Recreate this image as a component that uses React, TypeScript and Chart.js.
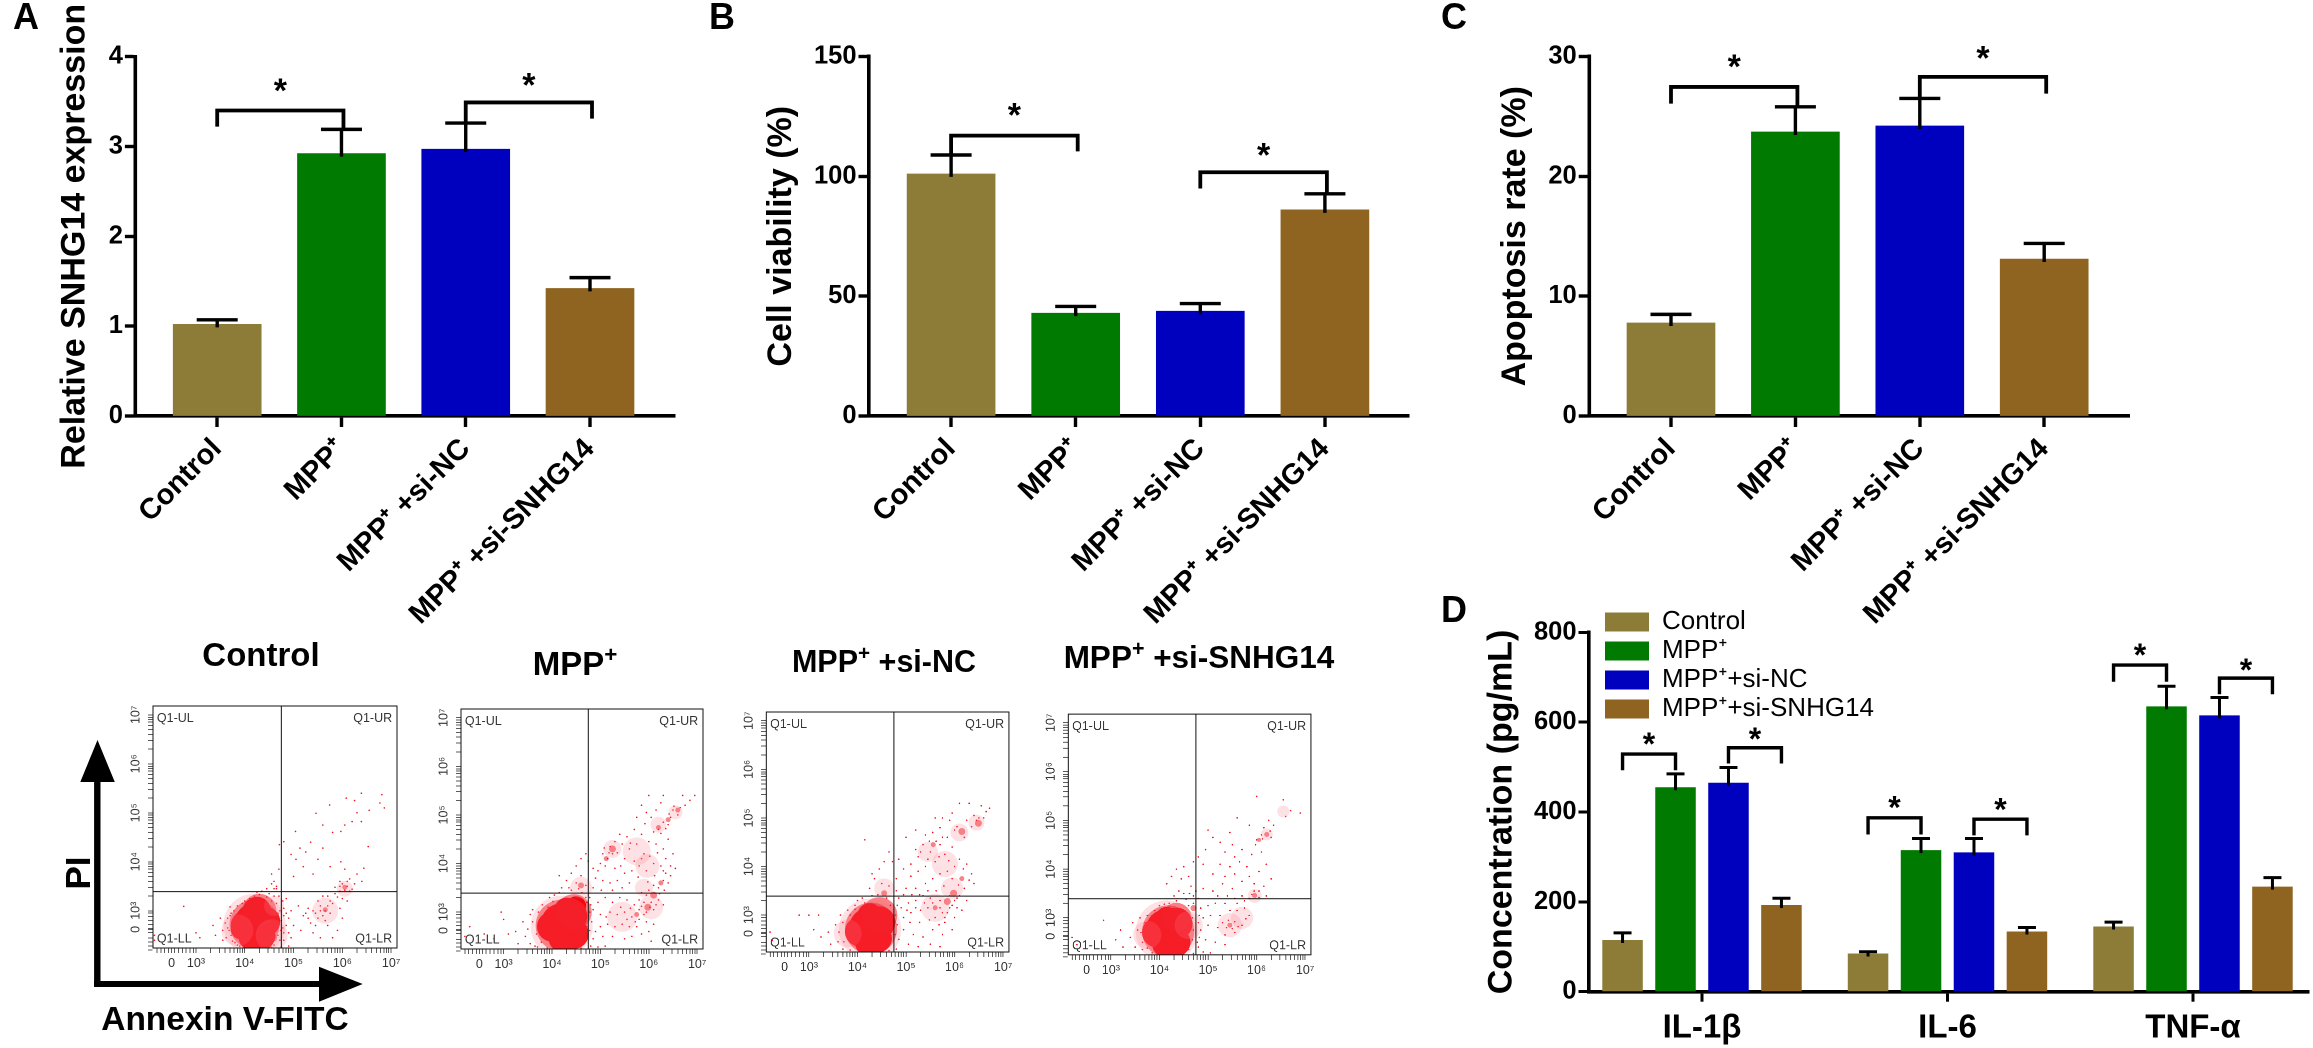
import React, { useEffect, useRef } from "react";
import { Chart, registerables } from "chart.js";

Chart.register(...registerables);

const FONT = "'Liberation Sans', Arial, sans-serif";
const INK = "#000";

const categories = ["Control", "MPP⁺", "MPP⁺ +si-NC", "MPP⁺ +si-SNHG14"];
const seriesNames = ["Control", "MPP⁺", "MPP⁺+si-NC", "MPP⁺+si-SNHG14"];
const barColors = ["#8c7c38", "#007a00", "#0000bf", "#8f6320"];

// Panel A
const aValues = [1.02, 2.92, 2.97, 1.42];
const aErrorTops = [1.07, 3.19, 3.26, 1.54];
const aTicks = [0, 1, 2, 3, 4];
// from, to, left leg end, bracket top, right leg end, star
const aBrackets = [
  [0, 1, 3.22, 3.4, 3.19, 3.68],
  [2, 3, 3.26, 3.49, 3.31, 3.74],
];
// Panel B
const bValues = [101, 42.9, 43.7, 86];
const bErrorTops = [108.9, 45.7, 46.9, 92.7];
const bTicks = [0, 50, 100, 150];
const bBrackets = [
  [0, 1, 108.9, 117, 110.4, 127.7],
  [2, 3, 94.9, 101.7, 92.7, 111],
];
// Panel C
const cValues = [7.76, 23.7, 24.2, 13.1];
const cErrorTops = [8.48, 25.8, 26.5, 14.4];
const cTicks = [0, 10, 20, 30];
const cBrackets = [
  [0, 1, 26.07, 27.46, 25.8, 29.6],
  [2, 3, 26.5, 28.3, 26.9, 30.3],
];
// Panel D
const dGroups = ["IL-1β", "IL-6", "TNF-α"];
const dTicks = [0, 200, 400, 600, 800];
const dControl = [115, 85, 145];
const dMpp = [455, 315, 635];
const dSiNc = [465, 310, 615];
const dSiSnhg = [193, 134, 234];
const dControlErr = [131, 89, 155];
const dMppErr = [485, 341, 680];
const dSiNcErr = [499, 341, 655];
const dSiSnhgErr = [208, 143, 254];
// series from, series to, group, left leg, top, right leg, star
const dBrackets = [
  [0, 1, 0, 493, 529, 493, 562],
  [2, 3, 0, 508, 543, 508, 574],
  [0, 1, 1, 350, 387, 350, 421],
  [2, 3, 1, 348, 384, 348, 417],
  [0, 1, 2, 690, 727, 690, 761],
  [2, 3, 2, 662, 698, 662, 727],
];

// Flow cytometry: axis positions are in decades
const flowMajorX = [2.5, 3, 4, 5, 6, 7];
const flowMajorY = [2.62, 3, 4, 5, 6, 7];
const flowTickLabels = ["0", "10³", "10⁴", "10⁵", "10⁶", "10⁷"];
const flowMinor = [2.2, 2.28, 2.36, 2.44, 2.56, 2.64, 2.72, 2.8, 2.88, 2.95, 3.3, 3.48, 3.6, 3.7, 3.78, 3.85, 3.9, 3.95, 4.3, 4.48, 4.6, 4.7, 4.78, 4.85, 4.9, 4.95, 5.3, 5.48, 5.6, 5.7, 5.78, 5.85, 5.9, 5.95, 6.3, 6.48, 6.6, 6.7, 6.78, 6.85, 6.9, 6.95];
const gateX = 4.75;
const gateY = 3.39;
const quadrantLabels: [string, number, number, string][] = [
  ["Q1-UL", 2.2, 6.92, "left"],
  ["Q1-UR", 7.02, 6.92, "right"],
  ["Q1-LL", 2.2, 2.42, "left"],
  ["Q1-LR", 7.02, 2.42, "right"],
];

const p1Core = [[4.2, 2.75, 20], [4.25, 3.0, 14], [4.3, 2.5, 16], [4.02, 2.7, 15], [4.42, 2.78, 15], [4.12, 2.45, 12], [4.32, 3.1, 8], [3.92, 2.62, 10]];
const p1Haze = [[4.2, 2.72, 31], [3.85, 2.6, 16], [4.55, 2.5, 16], [4.6, 3.1, 10], [5.65, 3.0, 13], [6.05, 3.45, 8]];
const p1Clumps = [[6.05, 3.48, 2.5], [5.65, 3.02, 2.5], [4.62, 2.9, 4], [4.58, 2.45, 4], [4.2, 2.72, 25], [4.3, 3.0, 17]];
const p1Dots = [[6.39,5.4],[6.81,5.37],[6.08,5.3],[5.74,5.16],[5.46,4.99],[6.77,5.2],[6.86,5.1],[6.39,4.82],[6.2,4.82],[5.97,4.62],[5.6,4.75],[5.04,4.62],[4.8,4.41],[5.13,4.28],[5.6,4.28],[4.71,4.35],[6.53,4.31],[5.97,4.0],[6.44,3.87],[6.25,5.25],[6.55,5.05],[6.3,5.0],[6.05,4.75],[5.8,4.6],[5.35,4.4],[5.25,4.2],[4.95,4.15],[5.05,4.05],[5.5,4.05],[5.75,3.9],[6.05,3.85],[6.3,3.75],[6.4,3.6],[6.15,3.65],[5.95,3.6],[6.1,3.5],[6.25,3.55],[5.85,3.48],[6.05,3.42],[6.2,3.44],[5.7,3.3],[5.9,3.28],[6.1,3.2],[5.8,3.15],[5.55,3.1],[5.65,3.0],[5.45,2.95],[5.75,2.95],[5.95,3.05],[5.3,3.05],[5.1,3.1],[4.95,3.0],[4.9,2.85],[4.85,3.25],[5.0,2.7],[5.15,2.6],[5.4,2.55],[5.7,2.7],[5.8,2.45],[5.55,2.45],[6.0,2.85],[5.9,2.6],[4.8,2.4],[4.95,2.45],[4.6,3.6],[4.55,3.75],[4.7,3.85],[4.65,3.5],[4.7,3.3],[5.0,3.7],[5.4,3.75],[5.2,3.9],[2.75,3.09],[3.0,2.55],[3.08,2.45],[3.35,2.7],[3.4,2.5],[3.5,2.85],[3.55,2.4],[3.65,2.65],[3.55,2.6],[2.15,2.5],[2.15,2.4],[4.55,2.25],[4.75,2.26],[4.9,2.28],[3.7,2.9],[3.72,2.5],[3.78,3.0],[3.8,2.35],[3.85,3.1],[3.9,2.28],[3.95,3.15],[4.0,3.2],[4.1,3.25],[4.25,3.38],[4.35,3.4],[4.5,3.35],[4.6,3.3],[4.65,3.15],[4.72,3.0],[4.75,2.8],[4.74,2.6],[4.72,2.4],[4.6,2.3],[4.45,2.25],[4.3,2.26],[4.1,2.27],[3.6,2.75],[3.62,2.45],[3.7,3.08],[5.2,2.9],[5.3,2.85],[5.4,3.0],[5.5,2.85],[5.6,2.9],[5.7,3.1],[5.5,3.2],[5.6,3.3],[5.75,3.2],[5.85,3.35],[5.95,3.4],[6.0,3.55],[6.1,3.6],[5.95,3.5],[6.15,3.4],[6.0,3.25],[5.65,2.8],[5.45,2.7],[5.35,2.75],[5.25,2.95],[5.55,3.0],[4.8,3.05],[4.85,2.7],[4.8,2.55],[4.85,2.95],[4.78,3.2],[4.8,2.9],[4.78,2.65],[4.9,2.55],[4.65,3.45],[4.55,3.55],[4.45,3.45],[4.6,3.45],[3.75,2.7],[3.68,2.6],[3.65,2.85],[3.72,2.95],[3.75,2.38],[3.85,2.3],[3.95,2.35],[4.0,3.1],[4.2,3.3],[4.3,3.33],[4.45,3.28],[4.55,3.2],[4.68,2.95],[4.7,2.7],[4.68,2.5],[4.6,2.4],[4.5,2.3]];

const p2Core = [[4.2, 2.75, 21], [4.4, 2.92, 16], [4.0, 2.7, 15], [4.45, 2.55, 15], [4.2, 2.45, 13], [4.5, 3.12, 10], [4.3, 3.05, 12]];
const p2Haze = [[4.2, 2.7, 31], [4.6, 3.5, 11], [5.25, 4.3, 9], [6.2, 4.8, 8], [6.55, 5.05, 7], [5.9, 3.5, 9], [6.05, 3.1, 12], [5.45, 2.9, 15], [5.97, 3.95, 12], [5.75, 4.25, 14]];
const p2Clumps = [[5.25, 4.3, 3.5], [5.12, 4.1, 2.5], [6.2, 4.74, 2.5], [6.4, 4.9, 2.5], [6.6, 5.1, 2.5], [6.25, 3.6, 2.5], [6.1, 3.35, 3.5], [5.98, 3.1, 3.5], [5.75, 2.95, 2.5], [4.6, 3.55, 3], [4.2, 2.72, 26], [4.45, 3.0, 18]];
const p2Dots = [[6.95,5.4],[6.85,5.3],[6.75,5.2],[6.65,5.15],[6.6,5.0],[6.5,5.1],[6.45,4.95],[6.4,4.8],[6.3,4.85],[6.2,4.7],[6.1,4.65],[6.05,4.95],[6.15,5.1],[6.25,5.25],[5.95,5.05],[5.85,5.2],[5.75,4.95],[6.0,5.4],[6.3,5.4],[6.7,5.4],[5.7,4.7],[5.85,4.6],[5.55,4.55],[5.4,4.6],[5.45,4.4],[5.3,4.45],[5.2,4.35],[5.25,4.2],[5.15,4.1],[5.05,4.2],[5.0,4.0],[5.1,3.95],[5.3,3.9],[5.5,4.1],[5.6,4.3],[5.75,4.4],[5.9,4.2],[6.0,4.45],[6.15,4.4],[6.3,4.3],[6.4,4.5],[6.5,4.2],[6.45,3.95],[6.35,3.8],[6.25,3.95],[6.1,4.0],[5.95,3.85],[5.8,3.95],[5.65,3.85],[5.5,3.8],[5.35,3.65],[5.2,3.6],[5.05,3.65],[4.9,3.7],[4.85,3.9],[4.75,4.05],[4.7,4.2],[4.6,4.1],[4.5,3.95],[4.4,3.8],[4.3,3.65],[4.2,3.5],[4.15,3.75],[4.35,3.5],[4.5,3.6],[4.6,3.75],[4.7,3.55],[6.55,3.9],[6.45,3.75],[6.4,3.6],[6.3,3.65],[6.2,3.5],[6.1,3.55],[6.0,3.45],[5.95,3.35],[5.85,3.4],[5.8,3.25],[5.9,3.2],[6.05,3.2],[6.2,3.25],[6.3,3.15],[6.1,3.05],[5.95,3.0],[5.8,3.05],[5.7,3.15],[5.55,3.25],[5.4,3.3],[5.25,3.2],[5.1,3.3],[4.95,3.2],[4.85,3.05],[5.0,2.95],[5.2,3.0],[5.35,2.95],[5.5,3.0],[5.65,2.9],[5.8,2.85],[5.95,2.8],[6.1,2.75],[6.0,2.6],[5.85,2.55],[5.75,2.7],[5.6,2.7],[5.45,2.75],[5.3,2.7],[5.15,2.75],[5.0,2.7],[4.9,2.6],[4.85,2.45],[5.05,2.5],[5.25,2.5],[5.5,2.45],[5.65,2.5],[6.05,2.4],[4.8,2.3],[4.95,2.28],[5.1,2.3],[4.6,2.26],[4.4,2.27],[4.2,2.3],[2.3,2.7],[2.2,2.5],[2.6,2.55],[2.8,2.45],[2.95,3.0],[3.0,2.85],[3.1,2.55],[3.25,2.6],[3.3,2.35],[3.4,2.8],[3.45,2.5],[3.5,2.65],[3.55,2.95],[3.55,2.35],[3.6,3.05],[3.65,2.3],[3.7,2.28],[3.8,3.15],[3.9,2.26],[3.95,3.3],[4.05,3.35],[4.15,3.4],[6.52,5.18],[6.42,5.02],[6.35,4.72],[6.25,4.62],[5.92,4.82],[5.62,4.42],[5.35,4.22],[5.18,4.22],[5.08,4.32],[4.95,3.85],[5.42,3.95],[5.7,4.05],[5.85,4.1],[6.02,4.15],[6.18,4.22],[6.35,4.1],[6.3,3.85],[6.12,3.75],[5.98,3.62],[5.78,3.72],[5.6,3.6],[5.45,3.5],[5.25,3.45],[5.02,3.45],[4.85,3.5],[4.78,3.3],[4.72,3.2],[4.78,3.0],[4.82,2.8],[4.78,2.62],[4.8,3.15],[5.12,2.9],[5.42,3.1],[5.62,3.08],[5.85,3.12],[6.15,3.15],[6.22,3.38],[6.32,3.45],[6.02,3.1],[5.9,2.95],[5.72,2.8],[5.55,2.85],[3.72,3.0],[3.68,2.55],[3.6,2.8],[3.78,2.38],[3.92,3.1],[4.02,3.22],[4.4,3.45],[4.55,3.48],[4.62,3.4],[4.7,3.3],[4.65,2.9],[4.72,2.7],[4.7,2.45],[4.6,2.35]];

const p3Core = [[4.26, 2.73, 21], [4.45, 2.85, 16], [4.05, 2.66, 15], [4.42, 2.52, 14], [4.25, 3.0, 12], [4.2, 2.42, 12]];
const p3Haze = [[4.26, 2.7, 31], [3.8, 2.62, 14], [4.55, 3.55, 10], [5.45, 4.3, 10], [6.1, 4.7, 9], [6.45, 4.9, 8], [5.95, 3.55, 11], [5.6, 3.15, 14], [5.8, 4.05, 13]];
const p3Clumps = [[6.49, 4.89, 3.5], [6.15, 4.72, 3.5], [5.56, 4.45, 2.5], [5.98, 3.45, 3.5], [5.85, 3.28, 3.5], [5.6, 3.15, 2.5], [6.15, 3.75, 2.5], [4.55, 3.45, 3], [4.28, 2.72, 26], [4.45, 3.0, 18]];
const p3Dots = [[6.72,5.2],[6.65,5.13],[6.55,5.25],[6.5,5.0],[6.4,5.05],[6.3,5.3],[6.25,4.95],[6.1,5.3],[5.95,5.1],[5.9,4.95],[5.75,5.0],[5.6,5.0],[5.7,4.8],[5.55,4.7],[5.4,4.65],[5.35,4.45],[5.5,4.3],[5.25,4.2],[5.2,4.35],[5.1,4.05],[5.0,4.6],[5.2,4.75],[5.85,4.6],[6.0,4.75],[6.2,4.6],[5.95,4.4],[5.7,4.45],[5.8,4.25],[5.6,4.1],[5.4,4.0],[5.25,3.9],[5.1,3.8],[4.95,3.95],[4.85,4.15],[4.8,3.75],[4.72,4.1],[4.65,4.3],[4.55,4.1],[4.45,3.95],[4.35,3.75],[4.25,3.55],[4.15,4.55],[4.3,3.85],[4.5,3.65],[4.65,3.6],[4.8,3.5],[5.0,3.55],[5.2,3.55],[5.4,3.65],[5.55,3.75],[5.7,3.85],[5.85,3.9],[6.0,4.0],[6.1,4.15],[6.25,4.05],[6.35,3.85],[6.4,3.65],[6.2,3.55],[6.1,3.4],[6.0,3.3],[5.9,3.15],[5.75,3.05],[5.7,3.3],[5.5,3.35],[5.35,3.4],[5.2,3.3],[5.05,3.25],[4.9,3.15],[4.85,3.35],[4.95,2.95],[5.1,3.05],[5.3,3.1],[5.45,3.15],[5.6,2.95],[5.8,2.85],[6.0,2.95],[6.15,3.1],[6.25,3.3],[5.95,2.7],[5.75,2.6],[5.55,2.7],[5.35,2.55],[5.15,2.6],[4.95,2.7],[4.85,2.5],[5.05,2.4],[5.25,2.35],[5.5,2.4],[5.7,2.35],[4.8,2.3],[4.65,2.27],[4.5,2.26],[2.2,2.65],[2.25,2.48],[2.8,3.0],[3.0,3.0],[3.2,3.0],[3.1,2.7],[3.25,2.55],[3.4,2.65],[3.45,2.4],[3.55,2.8],[3.6,2.45],[3.65,3.0],[3.7,2.3],[3.8,3.1],[3.85,2.28],[3.95,3.2],[4.0,3.3],[4.1,3.35],[4.3,3.4],[6.6,5.0],[6.45,4.95],[6.35,4.82],[6.05,4.82],[5.75,4.6],[5.62,4.52],[5.48,4.52],[5.3,4.3],[5.45,4.15],[5.68,4.2],[5.88,4.12],[6.18,3.95],[6.3,3.72],[6.08,3.62],[5.95,3.75],[5.78,3.6],[5.62,3.5],[5.45,3.5],[5.28,3.42],[5.12,3.42],[4.95,3.42],[4.82,3.2],[4.78,3.0],[4.82,2.8],[4.78,2.6],[5.02,3.1],[5.2,3.15],[5.38,3.25],[5.55,3.25],[5.7,3.15],[5.85,3.05],[5.95,3.2],[6.05,3.15],[5.9,3.4],[6.05,3.35],[5.8,2.95],[5.68,2.8],[5.48,2.9],[5.28,2.85],[5.08,2.85],[3.7,2.85],[3.62,2.65],[3.72,2.45],[3.85,3.0],[3.95,3.12],[4.15,3.25],[4.42,3.42],[4.6,3.35],[4.68,3.2],[4.72,2.95],[4.7,2.65],[4.62,2.42],[4.5,2.35]];

const p4Core = [[4.15, 2.75, 21], [4.35, 2.88, 16], [3.95, 2.7, 15], [4.35, 2.5, 14], [4.15, 3.0, 11], [4.1, 2.45, 12]];
const p4Haze = [[4.15, 2.72, 31], [3.75, 2.65, 14], [4.6, 2.85, 14], [5.45, 2.85, 12], [5.96, 3.45, 7], [6.21, 4.71, 6], [6.55, 5.18, 6], [5.7, 3.0, 11]];
const p4Clumps = [[6.21, 4.71, 2.5], [6.05, 4.6, 2], [5.96, 3.46, 2.5], [5.45, 2.85, 2.5], [4.7, 3.2, 3], [4.18, 2.72, 26], [4.35, 3.0, 15]];
const p4Dots = [[6.0,5.49],[6.55,5.42],[6.7,5.2],[6.9,5.15],[6.6,5.08],[6.35,4.9],[6.25,5.0],[6.15,4.85],[6.1,4.7],[6.3,4.65],[6.0,4.6],[5.85,4.9],[5.6,5.05],[5.45,4.75],[5.25,4.55],[5.1,4.65],[5.0,4.8],[4.95,4.4],[5.35,4.35],[5.5,4.5],[5.7,4.4],[5.9,4.3],[6.1,4.35],[6.2,4.1],[6.05,3.95],[5.85,3.85],[5.65,4.15],[5.45,4.05],[5.25,4.1],[5.1,3.9],[4.9,4.1],[4.8,4.25],[4.7,4.15],[4.5,4.05],[4.35,4.0],[4.25,3.85],[4.15,3.7],[4.45,3.8],[4.6,3.85],[4.65,3.65],[4.4,3.55],[4.3,3.45],[4.7,3.45],[4.9,3.6],[5.1,3.55],[5.3,3.7],[5.5,3.6],[5.7,3.75],[5.95,3.7],[6.15,3.65],[6.3,3.8],[6.2,3.45],[6.05,3.42],[5.85,3.4],[5.7,3.45],[5.55,3.4],[5.35,3.3],[5.15,3.3],[5.0,3.25],[4.85,3.2],[4.9,3.0],[5.05,3.05],[5.25,3.05],[5.45,3.15],[5.6,3.15],[5.75,3.2],[5.85,3.05],[5.7,2.85],[5.55,2.7],[5.35,2.65],[5.2,2.8],[5.0,2.85],[4.85,2.75],[4.95,2.55],[5.15,2.5],[5.35,2.45],[4.8,2.4],[4.9,2.3],[4.7,2.27],[4.5,2.26],[4.3,2.27],[5.05,2.28],[2.2,2.6],[2.3,2.45],[2.85,2.95],[3.1,2.55],[3.2,2.75],[3.25,2.4],[3.4,2.6],[3.45,2.9],[3.5,2.4],[3.55,2.75],[3.6,3.0],[3.65,2.35],[3.75,3.05],[3.85,2.28],[3.9,3.15],[4.0,3.25],[4.2,3.3],[6.28,4.78],[6.12,4.62],[5.98,4.5],[5.55,4.25],[5.8,4.05],[5.55,3.9],[5.35,3.85],[5.95,3.55],[6.05,3.55],[5.9,3.48],[5.75,3.35],[5.6,3.3],[5.4,3.45],[5.2,3.45],[4.8,3.4],[4.75,3.55],[4.62,3.5],[4.5,3.5],[5.3,2.9],[5.42,2.95],[5.55,2.92],[5.5,2.78],[5.38,2.8],[5.62,2.82],[5.78,2.98],[4.82,3.05],[4.8,2.9],[4.82,2.6],[4.78,2.5],[4.7,3.3],[4.6,3.25],[4.55,3.38],[4.35,3.35],[4.1,3.28],[3.85,3.05],[3.7,2.9],[3.62,2.7],[3.65,2.5],[3.75,2.38],[4.6,2.35],[4.45,2.3],[4.68,2.55],[4.7,2.75],[4.68,3.0]];

const flowPanels = [
  { left: 152.9, right: 397.2, top: 705.7, bottom: 948, core: p1Core, haze: p1Haze, clumps: p1Clumps, dots: p1Dots },
  { left: 460.5, right: 703.4, top: 708.7, bottom: 948.7, core: p2Core, haze: p2Haze, clumps: p2Clumps, dots: p2Dots },
  { left: 766.1, right: 1008.6, top: 711.7, bottom: 951.7, core: p3Core, haze: p3Haze, clumps: p3Clumps, dots: p3Dots },
  { left: 1067.8, right: 1310.6, top: 714.3, bottom: 954.7, core: p4Core, haze: p4Haze, clumps: p4Clumps, dots: p4Dots },
];

function fixedBox(frame: any) {
  return {
    layout: {
      autoPadding: false,
      padding: { left: 0, top: frame.top - frame.y0, right: frame.x1 - frame.right, bottom: 0 },
    },
    y: { afterFit: (s: any) => { s.width = frame.left - frame.x0; } },
    x: { afterFit: (s: any) => { s.height = frame.y1 - frame.bottom; } },
  };
}

function drawStar(ctx: any, x: number, y: number, size: number) {
  ctx.font = `bold ${size}px ${FONT}`;
  ctx.textAlign = "center";
  ctx.textBaseline = "alphabetic";
  ctx.fillStyle = INK;
  const m = ctx.measureText("*");
  ctx.fillText("*", x, y + (m.actualBoundingBoxAscent - m.actualBoundingBoxDescent) / 2);
}

function drawBracket(ctx: any, yScale: any, x0: number, x1: number, l: number, t: number, r: number, star: number, starSize: number, lw: number) {
  ctx.strokeStyle = INK;
  ctx.lineWidth = lw;
  ctx.lineJoin = "miter";
  ctx.beginPath();
  ctx.moveTo(x0, yScale.getPixelForValue(l));
  ctx.lineTo(x0, yScale.getPixelForValue(t));
  ctx.lineTo(x1, yScale.getPixelForValue(t));
  ctx.lineTo(x1, yScale.getPixelForValue(r));
  ctx.stroke();
  drawStar(ctx, (x0 + x1) / 2, yScale.getPixelForValue(star), starSize);
}

function drawError(ctx: any, yScale: any, x: number, v: number, top: number, cap: number, lw: number) {
  const py = yScale.getPixelForValue(top);
  ctx.strokeStyle = INK;
  ctx.lineWidth = lw;
  ctx.beginPath();
  ctx.moveTo(x, yScale.getPixelForValue(v) + 3);
  ctx.lineTo(x, py);
  ctx.moveTo(x - cap / 2, py);
  ctx.lineTo(x + cap / 2, py);
  ctx.stroke();
}

function singleConfig(frame: any, values: number[], errs: number[], brackets: number[][], yTicks: number[], title: string, titleCenter: number) {
  const box = fixedBox(frame);
  const spacing = (frame.t3 - frame.t0) / 3;
  const lineH = 34 * 1.2;
  return {
    type: "bar",
    data: {
      datasets: [{
        label: title,
        data: values.map((y, x) => ({ x, y })),
        backgroundColor: barColors,
        barThickness: 88,
        borderWidth: 0,
      }],
    },
    options: {
      responsive: false,
      animation: false,
      events: [],
      devicePixelRatio: 2,
      layout: box.layout,
      plugins: { legend: { display: false }, tooltip: { enabled: false } },
      scales: {
        x: {
          type: "linear",
          offset: false,
          min: (frame.left - frame.t0) / spacing,
          max: 3 + (frame.right - frame.t3) / spacing,
          afterFit: box.x.afterFit,
          afterBuildTicks: (a: any) => { a.ticks = categories.map((_, value) => ({ value })); },
          border: { display: true, width: 3.6, color: INK },
          grid: { offset: false, drawOnChartArea: false, drawTicks: true, tickLength: 11, tickWidth: 3.4, tickColor: INK },
          ticks: {
            autoSkip: false, minRotation: 45, maxRotation: 45, padding: 5, color: INK,
            font: { family: FONT, size: 29, weight: "bold" },
            callback: (v: number) => categories[v],
          },
        },
        y: {
          min: yTicks[0], max: yTicks[yTicks.length - 1],
          afterFit: box.y.afterFit,
          afterBuildTicks: (a: any) => { a.ticks = yTicks.map((value) => ({ value })); },
          border: { display: true, width: 3.6, color: INK },
          grid: { drawOnChartArea: false, drawTicks: true, tickLength: 10.5, tickWidth: 3.4, tickColor: INK },
          ticks: { padding: 2, color: INK, font: { family: FONT, size: 25.5, weight: "bold" } },
          title: {
            display: true, text: title, color: INK,
            font: { family: FONT, size: 34, weight: "bold" },
            padding: { top: titleCenter - frame.x0 - lineH / 2, bottom: 0 },
          },
        },
      },
    },
    plugins: [{
      id: "marks",
      afterDatasetsDraw(chart: any) {
        const { ctx, scales } = chart;
        const bars = chart.getDatasetMeta(0).data;
        ctx.save();
        errs.forEach((top, i) => drawError(ctx, scales.y, bars[i].x, values[i], top, 41, 3.4));
        brackets.forEach(([a, b, l, t, r, s]) => drawBracket(ctx, scales.y, bars[a].x, bars[b].x + 2, l, t, r, s, 34, 3.8));
        ctx.restore();
      },
    }],
  };
}

function groupedConfig(frame: any) {
  const box = fixedBox(frame);
  const spacing = (frame.t2 - frame.t0) / 2;
  const allValues = [dControl, dMpp, dSiNc, dSiSnhg];
  const allErrs = [dControlErr, dMppErr, dSiNcErr, dSiSnhgErr];
  return {
    type: "bar",
    data: {
      datasets: allValues.map((vals, s) => ({
        label: seriesNames[s],
        data: vals.map((y, x) => ({ x, y })),
        backgroundColor: barColors[s],
        barPercentage: 0.765,
        categoryPercentage: 0.863,
        borderWidth: 0,
      })),
    },
    options: {
      responsive: false,
      animation: false,
      events: [],
      devicePixelRatio: 2,
      layout: box.layout,
      plugins: {
        tooltip: { enabled: false },
        legend: {
          position: "chartArea",
          align: "start",
          labels: {
            boxWidth: 44, boxHeight: 19, padding: 3, color: INK,
            font: { family: FONT, size: 26, lineHeight: 1 },
          },
        },
      },
      scales: {
        x: {
          type: "linear",
          offset: false,
          min: (frame.left - frame.t0) / spacing,
          max: 2 + (frame.right - frame.t2) / spacing,
          afterFit: box.x.afterFit,
          afterBuildTicks: (a: any) => { a.ticks = dGroups.map((_, value) => ({ value })); },
          border: { display: true, width: 3.6, color: INK },
          grid: { offset: false, drawOnChartArea: false, drawTicks: true, tickLength: 10, tickWidth: 3, tickColor: INK },
          ticks: {
            autoSkip: false, maxRotation: 0, minRotation: 0, padding: 7, color: INK,
            font: { family: FONT, size: 33, weight: "bold" },
            callback: (v: number) => dGroups[v],
          },
        },
        y: {
          min: 0, max: 800,
          afterFit: box.y.afterFit,
          afterBuildTicks: (a: any) => { a.ticks = dTicks.map((value) => ({ value })); },
          border: { display: true, width: 3.6, color: INK },
          grid: { drawOnChartArea: false, drawTicks: true, tickLength: 10.5, tickWidth: 3, tickColor: INK },
          ticks: { padding: 2, color: INK, font: { family: FONT, size: 25.5, weight: "bold" } },
          title: {
            display: true, text: "Concentration (pg/mL)", color: INK,
            font: { family: FONT, size: 34, weight: "bold" },
            padding: { top: 1.6, bottom: 0 },
          },
        },
      },
    },
    plugins: [{
      id: "marks",
      afterLayout(chart: any) {
        const l = chart.legend;
        const w = l.width;
        const h = l.height;
        l.left = 122; l.right = 122 + w; l.top = 16; l.bottom = 16 + h;
      },
      afterDatasetsDraw(chart: any) {
        const { ctx, scales } = chart;
        ctx.save();
        allErrs.forEach((errs, s) => errs.forEach((top, i) => {
          drawError(ctx, scales.y, chart.getDatasetMeta(s).data[i].x, allValues[s][i], top, 18, 3);
        }));
        dBrackets.forEach(([a, b, g, l, t, r, star]) => {
          drawBracket(ctx, scales.y, chart.getDatasetMeta(a).data[g].x, chart.getDatasetMeta(b).data[g].x, l, t, r, star, 32, 3.4);
        });
        ctx.restore();
      },
    }],
  };
}

function flowConfig(frame: any, panel: any) {
  const box = fixedBox(frame);
  const pts = (list: number[][]) => list.map(([x, y, r]) => ({ x, y, r }));
  const layer = (list: number[][], color: string, radius: any) => ({
    data: pts(list),
    backgroundColor: color,
    borderWidth: 0,
    pointBorderWidth: 0,
    pointRadius: radius,
    showLine: false,
  });
  const byR = (c: any) => c.raw.r;
  const axis = (majors: number[], rotated: boolean) => ({
    afterBuildTicks: (a: any) => {
      a.ticks = [...flowMinor, ...majors].sort((p, q) => p - q).map((value) => ({ value, major: false }));
    },
    border: { display: true, width: 1, color: "#222" },
    grid: { drawOnChartArea: false, drawTicks: true, tickLength: 5, tickWidth: 0.8, tickColor: "#333" },
    ticks: {
      autoSkip: false,
      minRotation: rotated ? 90 : 0,
      maxRotation: rotated ? 90 : 0,
      crossAlign: rotated ? "center" : "near",
      padding: rotated ? 2.5 : 3,
      color: "#333",
      font: { family: FONT, size: 12.5 },
      callback: (v: number) => {
        const i = majors.indexOf(v);
        return i >= 0 ? flowTickLabels[i] : "";
      },
    },
  });
  return {
    type: "scatter",
    data: {
      datasets: [
        layer(panel.haze, "rgba(250,120,130,0.22)", byR),
        layer(panel.clumps, "rgba(240,10,20,0.5)", byR),
        layer(panel.dots, "rgba(240,15,25,1)", 0.8),
        layer(panel.core, "#fa0006", byR),
      ],
    },
    options: {
      responsive: false,
      animation: false,
      events: [],
      devicePixelRatio: 2,
      layout: box.layout,
      plugins: { legend: { display: false }, tooltip: { enabled: false } },
      scales: {
        x: { type: "linear", min: 2.12, max: 7.12, afterFit: box.x.afterFit, ...axis(flowMajorX, false) },
        y: { type: "linear", min: 2.24, max: 7.18, afterFit: box.y.afterFit, ...axis(flowMajorY, true) },
      },
    },
    plugins: [{
      id: "gates",
      afterDatasetsDraw(chart: any) {
        const { ctx, scales, chartArea: c } = chart;
        ctx.save();
        ctx.strokeStyle = "#111";
        ctx.lineWidth = 1;
        ctx.strokeRect(c.left, c.top, c.right - c.left, c.bottom - c.top);
        const gx = scales.x.getPixelForValue(gateX);
        const gy = scales.y.getPixelForValue(gateY);
        ctx.beginPath();
        ctx.moveTo(gx, c.top); ctx.lineTo(gx, c.bottom);
        ctx.moveTo(c.left, gy); ctx.lineTo(c.right, gy);
        ctx.stroke();
        ctx.fillStyle = "#333";
        ctx.font = `12.5px ${FONT}`;
        ctx.textBaseline = "middle";
        quadrantLabels.forEach(([t, x, y, align]) => {
          ctx.textAlign = align;
          ctx.fillText(t, scales.x.getPixelForValue(x), scales.y.getPixelForValue(y));
        });
        ctx.restore();
      },
    }],
  };
}

function Panel({ frame, build }: { frame: any; build: (f: any) => any }) {
  const ref = useRef<HTMLCanvasElement | null>(null);
  useEffect(() => {
    const canvas = ref.current!;
    canvas.width = frame.x1 - frame.x0;
    canvas.height = frame.y1 - frame.y0;
    const chart = new Chart(canvas, build(frame));
    return () => chart.destroy();
  }, []);
  return (
    <canvas
      ref={ref}
      style={{ position: "absolute", left: frame.x0, top: frame.y0, width: frame.x1 - frame.x0, height: frame.y1 - frame.y0 }}
    />
  );
}

const frameA = { x0: 0, y0: 0, x1: 700, y1: 660, left: 135.4, right: 675, top: 56.6, bottom: 416, t0: 217.2, t3: 590 };
const frameB = { x0: 730, y0: 0, x1: 1430, y1: 660, left: 869, right: 1409, top: 56.5, bottom: 416, t0: 951.1, t3: 1324.9 };
const frameC = { x0: 1470, y0: 0, x1: 2150, y1: 660, left: 1589.2, right: 2129.6, top: 56.5, bottom: 416, t0: 1671, t3: 2044.2 };
const frameD = { x0: 1480, y0: 590, x1: 2313, y1: 1048, left: 1589, right: 2309, top: 632.3, bottom: 991.7, t0: 1702, t2: 2193 };

function Sup({ size }: { size: number }) {
  return <tspan fontSize={size * 0.68} dy={-size * 0.38}>+</tspan>;
}

function Overlay() {
  const bold = { fontFamily: FONT, fontWeight: 700, fill: INK } as any;
  return (
    <svg width={2313} height={1048} style={{ position: "absolute", left: 0, top: 0, pointerEvents: "none" }}>
      <g {...bold} fontSize={36} textAnchor="middle">
        <text x={26} y={28.5}>A</text>
        <text x={722} y={28.5}>B</text>
        <text x={1454} y={28.5}>C</text>
        <text x={1454} y={622}>D</text>
      </g>
      <g {...bold} textAnchor="middle">
        <text x={261} y={666} fontSize={33}>Control</text>
        <text x={575} y={675} fontSize={33}>MPP<Sup size={33} /></text>
        <text x={884} y={671.7} fontSize={30.5}>MPP<Sup size={30.5} /><tspan dy={30.5 * 0.38}> +si-NC</tspan></text>
        <text x={1199} y={667.7} fontSize={31.5}>MPP<Sup size={31.5} /><tspan dy={31.5 * 0.38}> +si-SNHG14</tspan></text>
        <text x={225} y={1030} fontSize={33.5}>Annexin V-FITC</text>
        <text transform="translate(90,873) rotate(-90)" fontSize={35}>PI</text>
      </g>
      <g fill={INK}>
        <rect x={94.1} y={781} width={6.4} height={206} />
        <polygon points="80.3,782 114.8,782 97.5,740" />
        <rect x={94.1} y={981} width={226} height={6} />
        <polygon points="319,966.7 319,1001.7 362.7,984" />
      </g>
    </svg>
  );
}

export default function App() {
  return (
    <div style={{ position: "absolute", left: 0, top: 0, width: 2313, height: 1048, background: "#fff", overflow: "hidden" }}>
      <Panel frame={frameA} build={(f) => singleConfig(f, aValues, aErrorTops, aBrackets, aTicks, "Relative SNHG14 expression", 75)} />
      <Panel frame={frameB} build={(f) => singleConfig(f, bValues, bErrorTops, bBrackets, bTicks, "Cell viability (%)", 781.7)} />
      <Panel frame={frameC} build={(f) => singleConfig(f, cValues, cErrorTops, cBrackets, cTicks, "Apoptosis rate (%)", 1515.8)} />
      <Panel frame={frameD} build={groupedConfig} />
      {flowPanels.map((p, i) => (
        <Panel
          key={i}
          frame={{ x0: p.left - 45, y0: p.top - 12, x1: p.right + 12, y1: p.bottom + 35, left: p.left, right: p.right, top: p.top, bottom: p.bottom }}
          build={(f) => flowConfig(f, p)}
        />
      ))}
      <Overlay />
    </div>
  );
}
